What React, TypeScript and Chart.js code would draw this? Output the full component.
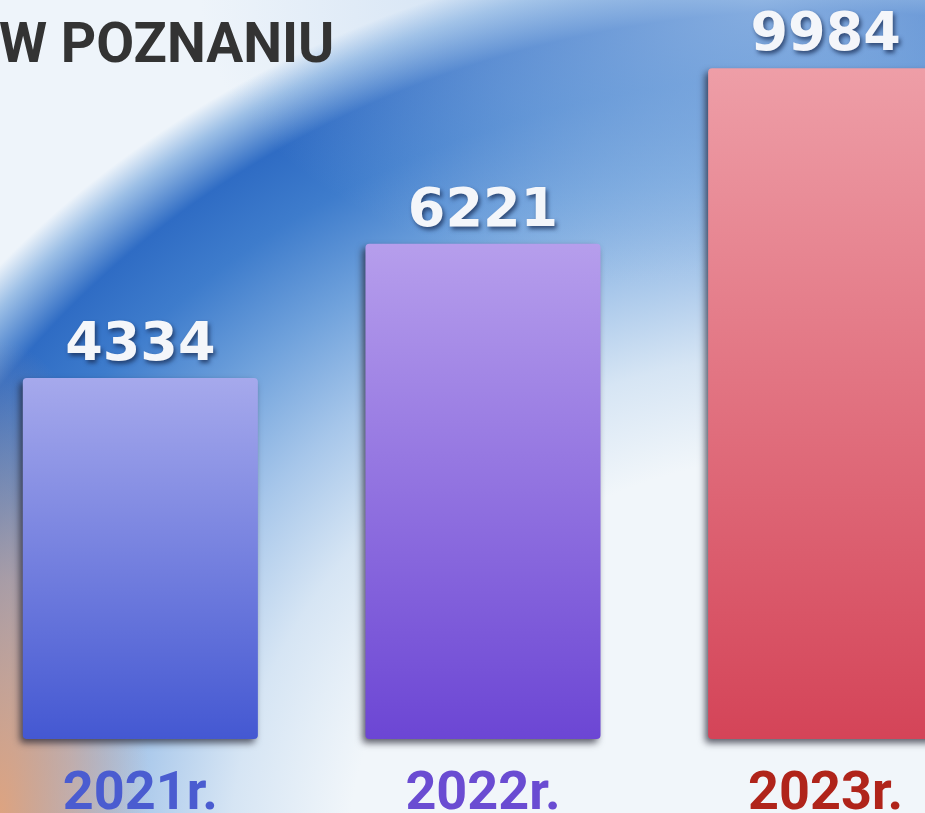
import { useEffect, useRef } from 'react';
import { Chart, registerables } from 'chart.js';

Chart.register(...registerables);

const categories = ['2021r.', '2022r.', '2023r.'];
const values = [4334, 6221, 9984];
const tickColors = ['#4a5cd0', '#6a4cd2', '#b0241a'];
const barTopColors = ['#a6a9ec', '#b69eec', '#ee9ea7'];
const barBottomColors = ['#4458d2', '#6c46d4', '#d44458'];
const titleText = 'W POZNANIU';

const CANVAS_W = 1028;
const CANVAS_H = 851;
const OFFSET_X = -31;

export default function App() {
  const ref = useRef<HTMLCanvasElement>(null);

  useEffect(() => {
    document.body.style.margin = '0';
    const canvas = ref.current;
    if (!canvas) return;

    const barShadow = {
      id: 'barShadow',
      beforeDatasetsDraw(chart: any) {
        const c = chart.ctx;
        c.save();
        c.shadowColor = 'rgba(30,30,45,0.7)';
        c.shadowBlur = 7;
        c.shadowOffsetX = -3;
        c.shadowOffsetY = 4;
      },
      afterDatasetsDraw(chart: any) {
        chart.ctx.restore();
      },
    };

    const valueLabels = {
      id: 'valueLabels',
      afterDraw(chart: any) {
        const c = chart.ctx;
        const meta = chart.getDatasetMeta(0);
        c.save();
        c.font = 'bold 54px "DejaVu Sans"';
        c.textAlign = 'center';
        c.textBaseline = 'alphabetic';
        c.fillStyle = '#f4f6fa';
        c.shadowColor = 'rgba(25,45,85,0.75)';
        c.shadowBlur = 4;
        c.shadowOffsetX = 2;
        c.shadowOffsetY = 3;
        meta.data.forEach((el: any, i: number) => {
          c.fillText(String(values[i]), el.x, el.y - 18);
        });
        c.restore();
      },
    };

    const titlePlugin = {
      id: 'cornerTitle',
      afterDraw(chart: any) {
        const c = chart.ctx;
        c.save();
        c.font = 'bold 55px Roboto';
        c.textAlign = 'left';
        c.textBaseline = 'alphabetic';
        c.fillStyle = '#333333';
        c.fillText(titleText, -OFFSET_X - 1, 62);
        c.restore();
      },
    };

    const chart = new Chart(canvas, {
      type: 'bar',
      data: {
        labels: categories,
        datasets: [
          {
            data: values,
            clip: false as any,
            backgroundColor: (ctx: any) => {
              const i = ctx.dataIndex;
              const ch = ctx.chart;
              const area = ch.chartArea;
              if (!area || ctx.type !== 'data' || !ch.scales.y) return barBottomColors[i];
              const top = ch.scales.y.getPixelForValue(values[i]);
              const g = ch.ctx.createLinearGradient(0, top, 0, area.bottom);
              g.addColorStop(0, barTopColors[i]);
              g.addColorStop(1, barBottomColors[i]);
              return g;
            },
            borderWidth: 0,
            borderRadius: 4,
            borderSkipped: false,
            barPercentage: 0.686,
            categoryPercentage: 1,
          },
        ],
      },
      options: {
        responsive: false,
        animation: false,
        devicePixelRatio: 1,
        layout: { padding: 0 },
        plugins: {
          legend: { display: false },
          title: { display: false },
          tooltip: { enabled: false },
        },
        scales: {
          x: {
            grid: { display: false, drawTicks: false, tickLength: 0 },
            border: { display: false },
            ticks: {
              padding: 29,
              color: (ctx: any) => tickColors[ctx.index],
              font: { family: 'Roboto', weight: 'bold', size: 54, lineHeight: 1 },
            },
          },
          y: {
            type: 'logarithmic',
            display: false,
            min: 1639,
            max: 12000,
          },
        },
      },
      plugins: [barShadow, valueLabels, titlePlugin],
    });

    return () => chart.destroy();
  }, []);

  const bg = [
    'radial-gradient(ellipse 150px 480px at 0px 820px, rgba(232,164,120,0.92) 0%, rgba(228,170,138,0.6) 50%, rgba(220,180,160,0) 100%)',
    'radial-gradient(ellipse 560px 300px at 760px 0px, rgba(172,202,236,0.7) 0%, rgba(172,202,236,0.35) 55%, rgba(172,202,236,0) 100%)',
    'radial-gradient(ellipse 1073px 923px at 820px 860px, #f1f6fa 0%, #f1f6fa 44%, #d6e5f4 55%, #a6c6ea 65%, #70a2dc 75%, #3e7ccc 85%, #2f6cc4 92%, #9cbfe6 97%, #eef4fa 100%)',
    '#f1f6fa',
  ].join(', ');

  return (
    <div
      style={{
        position: 'fixed',
        left: 0,
        top: 0,
        width: 925,
        height: 813,
        overflow: 'hidden',
        background: bg,
      }}
    >
      <canvas
        ref={ref}
        width={CANVAS_W}
        height={CANVAS_H}
        style={{ position: 'absolute', left: OFFSET_X, top: 0, width: CANVAS_W, height: CANVAS_H }}
      />
    </div>
  );
}
